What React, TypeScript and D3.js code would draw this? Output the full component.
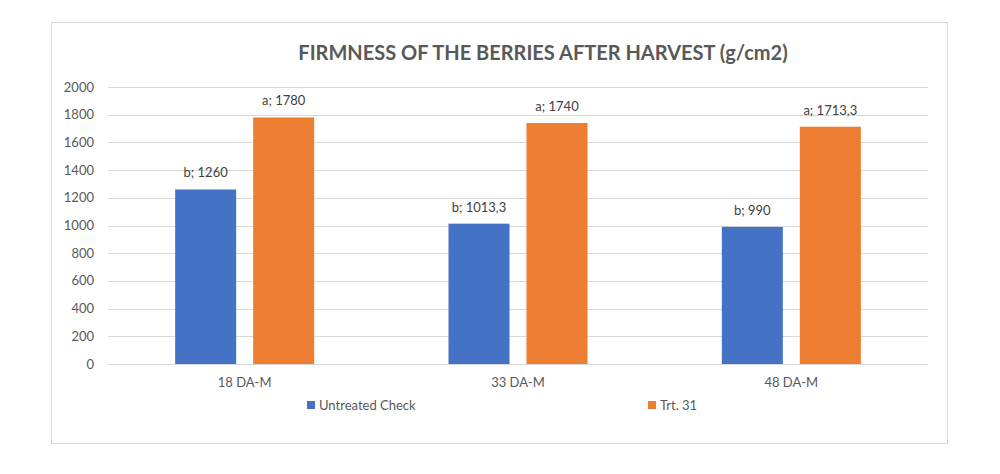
import React from "react";
import * as d3 from "d3";

const categories = ["18 DA-M", "33 DA-M", "48 DA-M"];
const seriesNames = ["Untreated Check", "Trt. 31"];
const untreated = [1260, 1013.3, 990];
const trt31 = [1780, 1740, 1713.3];
const untreatedLetters = ["b", "b", "b"];
const trt31Letters = ["a", "a", "a"];
const yTicks = [0, 200, 400, 600, 800, 1000, 1200, 1400, 1600, 1800, 2000];
const colors = ["#4472C4", "#ED7D31"];

const fmt = (v: number) => String(v).replace(".", ",");

export default function App() {
  const W = 1000, H = 474;
  const left = 108, right = 928, top = 87, bottom = 364;
  const x = d3.scaleBand<string>().domain(categories).range([left, right]).paddingInner(0).paddingOuter(0);
  const y = d3.scaleLinear().domain([0, 2000]).range([bottom, top]);
  const barW = 61, gap = 17;
  const series = [untreated, trt31];
  const letters = [untreatedLetters, trt31Letters];
  const font = "Lato, 'Open Sans', sans-serif";
  const textColor = "#595959";
  return (
    <svg width={W} height={H} style={{ position: "absolute", left: 0, top: 0 }} fontFamily={font}>
      <rect x={0} y={0} width={W} height={H} fill="#fff" />
      <rect x={51.5} y={22.5} width={896} height={421} fill="#fff" stroke="#d9d9d9" strokeWidth={1} />
      <text x={543} y={60} textAnchor="middle" fontSize={20} fontWeight={700} fill={textColor}>
        FIRMNESS OF THE BERRIES AFTER HARVEST (g/cm2)
      </text>
      {yTicks.map((t) => (
        <g key={t}>
          <line x1={left} x2={right} y1={Math.round(y(t)) + 0.5} y2={Math.round(y(t)) + 0.5} stroke="#d9d9d9" strokeWidth={1} />
          <text x={94} y={y(t)} dy="0.35em" textAnchor="end" fontSize={13} fill={textColor}>{t}</text>
        </g>
      ))}
      {categories.map((c, i) => {
        const cx = (x(c) as number) + x.bandwidth() / 2;
        return (
          <g key={c}>
            {series.map((s, si) => {
              const bx = si === 0 ? cx - gap / 2 - barW : cx + gap / 2;
              return (
                <g key={si}>
                  <rect x={bx} y={y(s[i])} width={barW} height={bottom - y(s[i])} fill={colors[si]} />
                  <text x={bx + barW / 2} y={y(s[i]) - 12} textAnchor="middle" fontSize={13} fill="#404040">
                    {letters[si][i]}; {fmt(s[i])}
                  </text>
                </g>
              );
            })}
            <text x={cx} y={382} dy="0.35em" textAnchor="middle" fontSize={13} fill={textColor}>{c}</text>
          </g>
        );
      })}
      <rect x={307} y={401} width={8} height={8} fill={colors[0]} />
      <text x={319} y={405} dy="0.35em" fontSize={13} fill={textColor}>{seriesNames[0]}</text>
      <rect x={648} y={401} width={8} height={8} fill={colors[1]} />
      <text x={660} y={405} dy="0.35em" fontSize={13} fill={textColor}>{seriesNames[1]}</text>
    </svg>
  );
}
